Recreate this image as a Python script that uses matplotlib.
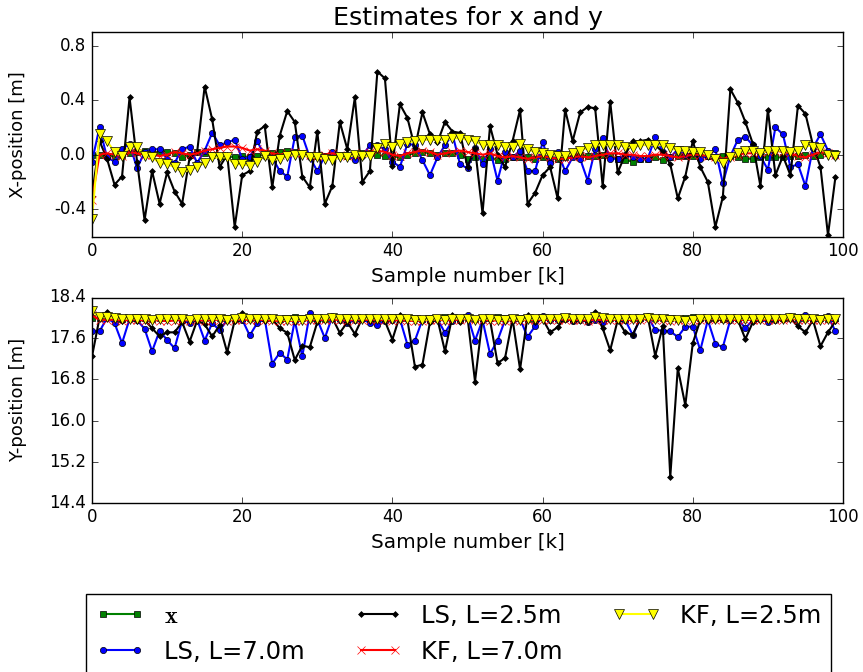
import numpy as np
import matplotlib
matplotlib.use("Agg")
import matplotlib.pyplot as plt

# -----------------------------
# DATA
# -----------------------------
k = np.arange(100)

true_x = [0.0, 0.0, -0.01, -0.01, 0.0, 0.01, 0.02, 0.03, 0.02, 0.02,
          0.02, 0.01, -0.02, 0.0, 0.02, 0.01, 0.0, -0.01, -0.01, -0.02,
          -0.01, -0.02, -0.01, 0.0, 0.01, 0.02, 0.03, 0.02, 0.01, 0.0,
          -0.01, -0.01, 0.0, 0.0, -0.01, 0.0, 0.01, 0.01, 0.0, -0.01,
          -0.01, -0.02, 0.0, 0.01, 0.02, 0.01, 0.0, 0.01, 0.01, 0.0,
          -0.03, -0.02, -0.03, -0.02, -0.04, -0.03, -0.02, -0.02, -0.02, -0.03,
          -0.02, -0.03, -0.03, -0.02, -0.01, 0.0, -0.01, -0.01, 0.0, -0.01,
          -0.03, -0.04, -0.05, -0.03, -0.03, -0.02, -0.04, -0.02, -0.01, -0.01,
          -0.01, 0.0, -0.01, -0.02, -0.01, -0.01, -0.02, -0.03, -0.03, -0.02,
          -0.02, -0.02, -0.02, -0.01, -0.01, 0.0, -0.01, 0.0, 0.01, 0.01]

ls70_x = [-0.05, 0.2, -0.02, -0.05, 0.04, 0.08, -0.1, 0.02, 0.04, 0.04,
          -0.03, -0.06, 0.04, 0.06, -0.06, 0.03, 0.16, 0.07, 0.09, 0.11,
          -0.03, -0.02, 0.1, -0.01, -0.02, -0.12, -0.16, 0.13, 0.14, -0.02,
          -0.12, -0.01, 0.02, -0.01, 0.0, -0.04, -0.01, 0.07, 0.07, 0.04,
          -0.05, -0.09, 0.08, 0.07, -0.04, -0.15, -0.02, 0.07, 0.15, -0.07,
          -0.1, 0.05, -0.07, 0.04, -0.19, 0.02, -0.02, 0.03, -0.12, -0.12,
          0.09, -0.06, 0.02, -0.12, -0.02, -0.03, -0.19, 0.04, 0.12, -0.03,
          -0.03, 0.0, -0.02, -0.03, -0.03, 0.13, 0.02, -0.02, 0.04, 0.0,
          0.01, -0.03, -0.01, 0.04, -0.21, -0.01, 0.11, 0.13, 0.07, -0.01,
          -0.11, 0.2, 0.15, -0.09, -0.07, -0.23, 0.05, 0.15, 0.03, -0.01]

ls25_x = [-0.3, 0.1, -0.03, -0.22, -0.16, 0.42, -0.05, -0.48, -0.12, -0.36,
          -0.13, -0.27, -0.36, -0.02, 0.02, 0.5, 0.26, -0.09, 0.0, -0.53,
          -0.15, -0.12, 0.17, 0.21, -0.24, 0.14, 0.32, 0.24, -0.16, -0.24,
          0.17, -0.36, -0.23, 0.24, 0.04, 0.42, -0.2, -0.12, 0.61, 0.56,
          -0.08, 0.37, 0.27, 0.05, 0.31, 0.15, 0.09, 0.24, 0.17, 0.16,
          -0.09, 0.05, -0.43, 0.21, 0.0, -0.09, 0.1, 0.33, -0.36, -0.28,
          -0.15, -0.09, -0.32, 0.33, 0.1, 0.31, 0.35, 0.34, -0.23, 0.39,
          -0.13, 0.0, 0.1, 0.1, 0.11, 0.07, 0.02, -0.07, -0.32, -0.16,
          0.1, -0.09, -0.2, -0.53, -0.31, 0.48, 0.38, 0.24, 0.08, -0.23,
          0.33, -0.15, -0.01, -0.15, 0.36, 0.3, 0.07, -0.09, -0.59, -0.16]

kf70_x = [-0.33, 0.0, 0.01, 0.0, -0.01, 0.02, 0.01, 0.0, 0.0, -0.01,
          0.0, 0.02, 0.01, 0.0, 0.01, 0.03, 0.04, 0.05, 0.06, 0.06,
          0.05, 0.03, 0.04, 0.03, 0.01, 0.0, 0.01, 0.02, 0.01, 0.0,
          -0.01, 0.0, 0.01, 0.0, -0.01, 0.0, 0.01, 0.02, 0.03, 0.02,
          0.0, -0.01, 0.01, 0.02, 0.03, 0.02, 0.0, 0.01, 0.02, 0.03,
          0.02, 0.01, 0.0, 0.01, -0.01, -0.02, -0.01, -0.02, -0.03, -0.02,
          -0.01, -0.02, -0.03, -0.03, -0.02, -0.01, -0.02, -0.01, 0.0, 0.01,
          0.01, 0.0, 0.0, -0.01, -0.01, 0.0, 0.0, -0.01, -0.02, -0.01,
          0.0, 0.0, -0.01, -0.02, -0.03, -0.02, 0.0, 0.01, 0.01, 0.02,
          0.02, 0.03, 0.02, 0.01, -0.01, -0.02, 0.0, 0.02, 0.01, 0.0]

kf25_x = [-0.47, 0.155, 0.1, 0.02, -0.01, 0.06, 0.06, -0.01, -0.02, -0.06,
          -0.07, -0.09, -0.13, -0.11, -0.09, -0.06, -0.02, -0.02, -0.02, -0.07,
          -0.07, -0.08, -0.05, -0.01, -0.04, -0.03, -0.01, 0.0, 0.0, -0.02,
          -0.02, -0.03, -0.04, -0.02, -0.02, 0.0, -0.01, -0.01, 0.05, 0.08,
          0.06, 0.08, 0.09, 0.1, 0.11, 0.11, 0.11, 0.11, 0.12, 0.12,
          0.11, 0.1, 0.07, 0.07, 0.07, 0.06, 0.06, 0.08, 0.04, 0.02,
          0.01, 0.0, -0.01, -0.01, 0.01, 0.03, 0.05, 0.07, 0.07, 0.07,
          0.07, 0.06, 0.05, 0.07, 0.07, 0.07, 0.07, 0.05, 0.03, 0.03,
          0.02, 0.02, 0.0, -0.03, -0.06, -0.02, 0.01, 0.03, 0.03, 0.01,
          0.03, 0.03, 0.03, 0.02, 0.03, 0.07, 0.06, 0.05, 0.0, -0.01]

true_y = [18.0, 18.0, 18.01, 18.0, 17.99, 18.0, 18.01, 18.0, 17.99, 18.0,
          18.0, 18.01, 18.0, 17.99, 18.0, 18.0, 18.01, 18.0, 18.0, 17.99,
          18.0, 18.0, 18.01, 18.0, 18.0, 17.99, 18.0, 18.01, 18.0, 18.0,
          18.0, 17.99, 18.0, 18.0, 18.01, 18.0, 18.0, 18.0, 17.99, 18.0,
          18.01, 18.0, 18.0, 18.0, 17.99, 18.0, 18.0, 18.01, 18.0, 18.0,
          18.0, 17.99, 18.0, 18.0, 18.01, 18.0, 18.0, 18.0, 17.99, 18.0,
          18.01, 18.0, 18.0, 18.0, 17.99, 18.0, 18.0, 18.01, 18.0, 18.0,
          18.0, 17.99, 18.0, 18.0, 18.01, 18.0, 18.0, 18.0, 17.99, 18.0,
          18.01, 18.0, 18.0, 18.0, 17.99, 18.0, 18.0, 18.01, 18.0, 18.0,
          18.0, 17.99, 18.0, 18.0, 18.01, 18.0, 18.0, 18.0, 17.99, 18.0]

ls70_y = [17.74, 17.74, 18.0, 17.9, 17.51, 17.98, 17.96, 17.79, 17.35, 17.75,
          17.57, 17.41, 17.95, 17.9, 17.97, 17.56, 17.9, 17.76, 17.96, 17.98,
          17.97, 17.66, 17.9, 17.98, 17.11, 17.32, 17.19, 17.95, 17.25, 18.09,
          17.97, 17.61, 18.03, 17.97, 17.9, 17.96, 17.98, 17.9, 17.86, 17.95,
          17.97, 17.98, 17.48, 17.56, 17.97, 17.95, 17.98, 17.71, 17.95, 17.97,
          18.05, 17.56, 17.96, 17.3, 17.56, 17.96, 17.97, 17.98, 17.63, 17.84,
          18.03, 17.96, 17.97, 17.98, 17.95, 17.97, 17.92, 17.97, 17.92, 18.0,
          17.97, 17.96, 17.67, 17.98, 18.03, 17.77, 17.75, 17.74, 17.63, 17.83,
          17.83, 17.37, 17.96, 17.5, 17.43, 17.97, 17.98, 17.8, 17.96, 17.98,
          17.92, 17.97, 17.98, 18.03, 17.97, 18.05, 17.96, 17.98, 18.03, 17.74]

ls25_y = [17.25, 18.0, 18.11, 18.03, 17.94, 17.98, 17.95, 17.96, 17.8, 17.64,
          17.72, 17.72, 17.92, 17.54, 17.95, 17.88, 17.64, 17.86, 17.33, 17.95,
          18.09, 17.98, 17.97, 17.95, 17.98, 17.8, 17.71, 17.18, 17.46, 17.43,
          17.92, 17.98, 18.0, 17.71, 17.92, 17.69, 18.0, 17.94, 17.97, 17.94,
          17.58, 18.05, 17.96, 17.05, 17.09, 17.92, 17.98, 17.35, 18.05, 17.92,
          18.02, 16.76, 17.99, 17.96, 17.12, 17.22, 17.98, 17.0, 18.05, 17.92,
          17.98, 17.72, 17.82, 18.0, 17.94, 17.98, 17.92, 18.11, 17.8, 17.37,
          17.96, 17.72, 17.67, 17.99, 18.03, 17.26, 17.84, 14.9, 17.02, 16.3,
          17.51, 17.96, 17.99, 17.96, 17.97, 17.99, 17.96, 17.59, 17.92, 17.99,
          17.97, 17.96, 17.96, 17.99, 17.84, 17.72, 17.96, 17.45, 17.72, 17.94]

kf70_y = [18.05, 17.97, 17.96, 17.97, 17.95, 17.96, 17.97, 17.95, 17.96, 17.95,
          17.94, 17.95, 17.96, 17.95, 17.96, 17.95, 17.96, 17.97, 17.95, 17.96,
          17.97, 17.96, 17.97, 17.96, 17.95, 17.94, 17.95, 17.94, 17.95, 17.96,
          17.97, 17.96, 17.97, 17.96, 17.95, 17.96, 17.97, 17.96, 17.97, 17.96,
          17.95, 17.96, 17.95, 17.94, 17.95, 17.96, 17.97, 17.95, 17.96, 17.97,
          17.98, 17.96, 17.97, 17.95, 17.95, 17.94, 17.96, 17.95, 17.96, 17.96,
          17.97, 17.96, 17.97, 17.97, 17.96, 17.96, 17.95, 17.97, 17.96, 17.96,
          17.97, 17.96, 17.96, 17.97, 17.98, 17.96, 17.97, 17.95, 17.96, 17.96,
          17.96, 17.97, 17.98, 17.97, 17.98, 17.97, 17.96, 17.96, 17.97, 17.96,
          17.97, 17.96, 17.97, 17.98, 17.97, 17.96, 17.97, 17.96, 17.97, 17.96]

kf25_y = [18.13, 18.02, 18.01, 18.0, 17.98, 17.99, 17.99, 17.98, 17.97, 17.98,
          17.98, 17.99, 17.98, 17.97, 17.98, 17.99, 17.98, 17.98, 17.97, 17.98,
          18.0, 17.99, 17.99, 17.98, 17.98, 17.97, 17.96, 17.96, 17.97, 17.98,
          17.99, 17.99, 18.0, 17.99, 17.99, 17.98, 17.99, 17.99, 17.99, 17.98,
          17.98, 17.99, 17.98, 17.96, 17.96, 17.97, 17.98, 17.97, 17.99, 17.99,
          17.99, 17.97, 17.98, 17.98, 17.97, 17.96, 17.98, 17.96, 17.98, 17.98,
          17.99, 17.99, 17.99, 18.0, 17.99, 17.99, 17.99, 18.01, 18.0, 17.98,
          17.98, 17.98, 17.98, 17.99, 18.0, 17.98, 17.99, 17.96, 17.96, 17.95,
          17.97, 17.98, 17.99, 17.99, 17.99, 17.99, 17.99, 17.98, 17.98, 17.99,
          17.99, 17.99, 17.99, 18.0, 17.99, 17.98, 17.98, 17.97, 17.98, 17.99]

labels = [r"$\mathbf{x}$", "LS, L=7.0m", "LS, L=2.5m", "KF, L=7.0m", "KF, L=2.5m"]

# -----------------------------
# PLOT
# -----------------------------
plt.style.use("classic")
plt.rcParams["axes.unicode_minus"] = False

fig = plt.figure(figsize=(8.63, 6.72), dpi=100, facecolor="white")
ax1 = fig.add_axes([92 / 863, 1 - 236.5 / 672, 751 / 863, 204.5 / 672])
ax2 = fig.add_axes([92 / 863, 1 - 502.5 / 672, 751 / 863, 205 / 672])

styles = [
    dict(color="green", marker="s", ms=4.5, lw=1.5),
    dict(color="blue", marker="o", ms=4.5, lw=1.5),
    dict(color="black", marker="D", ms=3, lw=1.5),
    dict(color="red", marker="x", ms=6, lw=1.5),
    dict(color="yellow", marker="v", ms=6.5, lw=1.5),
]

handles = []
for ax, series in [(ax1, [true_x, ls70_x, ls25_x, kf70_x, kf25_x]),
                   (ax2, [true_y, ls70_y, ls25_y, kf70_y, kf25_y])]:
    handles = []
    for vals, st, lab in zip(series, styles, labels):
        h, = ax.plot(k, vals, label=lab, **st)
        handles.append(h)
    ax.set_xlim(0, 100)
    ax.set_xlabel("Sample number [k]", fontsize=14.4)

ax1.set_ylim(-0.6, 0.9)
ax1.set_yticks([-0.4, 0.0, 0.4, 0.8])
ax1.set_ylabel("X-position [m]", fontsize=13)
ax1.set_title("Estimates for x and y", fontsize=18.3)

ax2.set_ylim(14.4, 18.4)
ax2.set_yticks([14.4, 15.2, 16.0, 16.8, 17.6, 18.4])
ax2.set_ylabel("Y-position [m]", fontsize=13)

# both y labels sit at the same distance from the axes
for ax in (ax1, ax2):
    ax.yaxis.set_label_coords(-0.087, 0.5)

fig.legend(handles, labels, loc="upper center", ncol=3, fontsize=17.5,
           bbox_to_anchor=(458.5 / 863, 1 - 594 / 672),
           borderaxespad=0.0, numpoints=2)

plt.savefig("out.png", dpi=100, facecolor="white")
plt.close()
